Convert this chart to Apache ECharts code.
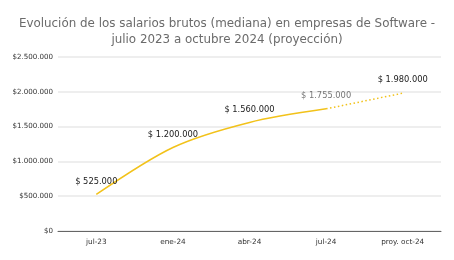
<!DOCTYPE html>
<html><head><meta charset="utf-8">
<script src="https://cdn.jsdelivr.net/npm/echarts@6/dist/echarts.min.js"></script>
<style>html,body{margin:0;padding:0;background:#fff}#c{width:454px;height:260px}</style>
</head><body><div id="c"></div>
<script>
const categories = ['jul-23', 'ene-24', 'abr-24', 'jul-24', 'proy. oct-24'];
const actualValues = [525000, 1200000, 1560000, 1755000, null];
const projectedValues = [null, null, null, 1755000, 1980000];
const yTicks = [0, 500000, 1000000, 1500000, 2000000, 2500000];

function fmt(v) {
  return String(v).replace(/\B(?=(\d{3})+(?!\d))/g, '.');
}
const font = '"DejaVu Sans", Verdana, sans-serif';
const chart = echarts.init(document.getElementById('c'));
chart.setOption({
  animation: false,
  title: {
    text: 'Evolución de los salarios brutos (mediana) en empresas de Software -\njulio 2023 a octubre 2024 (proyección)',
    left: 'center', top: 11,
    textStyle: { fontFamily: font, fontSize: 11.9, fontWeight: 'normal', color: '#6b6b6b', lineHeight: 16 }
  },
  grid: { left: 58, right: 13, top: 57, bottom: 29, containLabel: false },
  xAxis: [{
    type: 'category', data: categories, boundaryGap: true,
    axisLine: { lineStyle: { color: '#666', width: 1 } },
    axisTick: { alignWithLabel: true, length: 3, lineStyle: { color: '#555' } },
    axisLabel: { fontFamily: font, fontSize: 7.3, color: '#333', margin: 8 }
  }, {
    type: 'category', data: categories, boundaryGap: true, position: 'bottom',
    axisLine: { show: false },
    axisTick: { alignWithLabel: true, inside: true, length: 4, lineStyle: { color: '#555' } },
    axisLabel: { show: false }
  }],
  yAxis: {
    type: 'value', min: yTicks[0], max: yTicks[yTicks.length - 1], interval: yTicks[1] - yTicks[0],
    axisLine: { show: false }, axisTick: { show: false },
    axisLabel: { fontFamily: font, fontSize: 7.1, color: '#333', margin: 5, formatter: v => '$' + fmt(v) },
    splitLine: { lineStyle: { color: '#e8e8e8', width: 1.5 } }
  },
  series: [{
    type: 'line', data: actualValues.map((v, i) => i === 3 ? { value: v, label: { color: '#777' } } : v),
    smooth: 0.3, symbol: 'circle', symbolSize: 0.1,
    lineStyle: { color: '#f2c21a', width: 1.5 }, itemStyle: { color: '#f2c21a' },
    label: { show: true, position: 'top', distance: 9, fontFamily: font, fontSize: 8.3, color: '#222', formatter: p => '$ ' + fmt(p.value) }
  }, {
    type: 'line', data: projectedValues.map((v, i) => i === 4 ? { value: v, label: { show: true } } : v),
    symbol: 'circle', symbolSize: 0.1,
    lineStyle: { color: '#f2c21a', width: 1.5, type: [1.5, 2.5] }, itemStyle: { color: '#f2c21a' },
    label: { show: false, position: 'top', distance: 9, fontFamily: font, fontSize: 8.3, color: '#222', formatter: p => '$ ' + fmt(p.value) }
  }]
});
</script></body></html>
